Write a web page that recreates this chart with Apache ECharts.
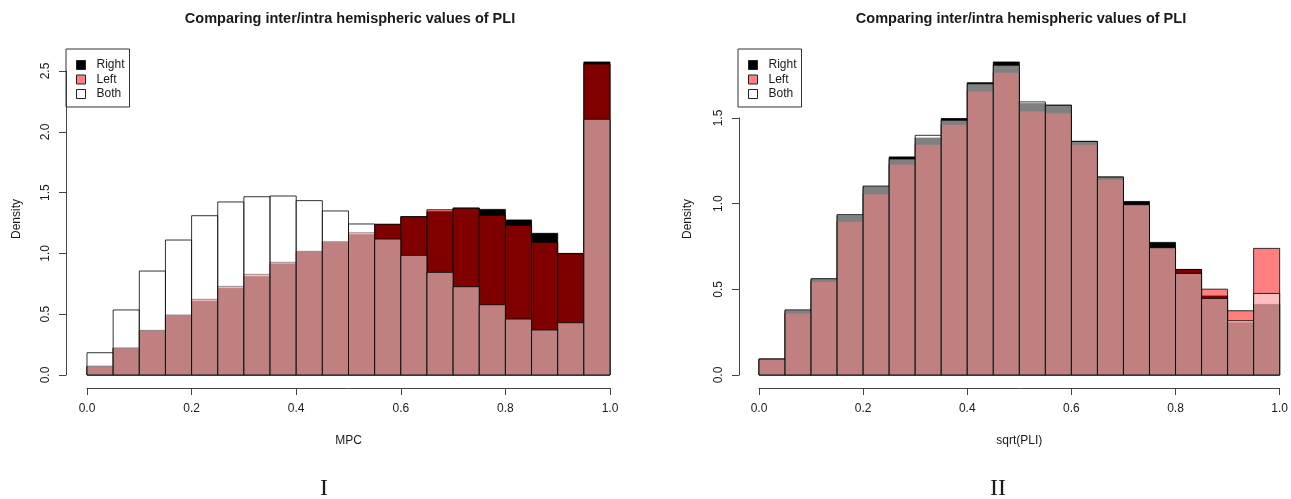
<!DOCTYPE html>
<html>
<head>
<meta charset="utf-8">
<script src="https://cdn.jsdelivr.net/npm/echarts@6/dist/echarts.min.js"></script>
<style>
html,body{margin:0;padding:0;background:#fff;}
#chart{width:1291px;height:499px;}
</style>
</head>
<body>
<div id="chart"></div>
<script>
// ---- data ----
const binEdges = [0,0.05,0.1,0.15,0.2,0.25,0.3,0.35,0.4,0.45,0.5,0.55,0.6,0.65,0.7,0.75,0.8,0.85,0.9,0.95,1.0];

// Panel I : MPC densities
const mpcRight = [0.071,0.220,0.364,0.490,0.606,0.713,0.809,0.913,1.012,1.090,1.154,1.239,1.302,1.343,1.373,1.362,1.275,1.165,1.000,2.574];
const mpcLeft  = [0.072,0.222,0.367,0.493,0.622,0.729,0.828,0.927,1.017,1.096,1.170,1.239,1.302,1.359,1.372,1.313,1.231,1.091,0.998,2.558];
const mpcBoth  = [0.183,0.535,0.855,1.110,1.310,1.423,1.466,1.472,1.434,1.349,1.242,1.118,0.984,0.844,0.726,0.578,0.460,0.370,0.430,2.103];

// Panel II : sqrt(PLI) densities
const pliRight = [0.093,0.377,0.560,0.932,1.100,1.273,1.383,1.497,1.706,1.827,1.584,1.575,1.364,1.156,1.013,0.774,0.616,0.461,0.305,0.412];
const pliLeft  = [0.092,0.361,0.546,0.896,1.057,1.230,1.346,1.462,1.657,1.765,1.541,1.529,1.345,1.141,0.994,0.743,0.616,0.501,0.375,0.739];
const pliBoth  = [0.093,0.380,0.562,0.936,1.103,1.261,1.399,1.487,1.700,1.808,1.594,1.574,1.363,1.155,0.994,0.743,0.593,0.447,0.317,0.476];

const xTicks1 = [0, 0.2, 0.4, 0.6, 0.8, 1.0];
const yTicks1 = [0, 0.5, 1.0, 1.5, 2.0, 2.5];
const yTicks2 = [0, 0.5, 1.0, 1.5];

const titleText = 'Comparing inter/intra hemispheric values of PLI';
const seriesNames = ['Right', 'Left', 'Both'];
const fills = ['#000000', 'rgba(255,0,0,0.5)', 'rgba(255,255,255,0.5)'];
const legendFills = ['#000000', '#ff8080', '#ffffff'];

// ---- build ----
function toBins(vals){
  return vals.map((v,i)=>[binEdges[i], binEdges[i+1], v]);
}
function histSeries(name, vals, fill, idx){
  return {
    type:'custom', name:name, xAxisIndex:idx, yAxisIndex:idx, clip:false,
    itemStyle:{color:fill},
    data: toBins(vals),
    renderItem: function(params, api){
      const p0 = api.coord([api.value(0), api.value(2)]);
      const p1 = api.coord([api.value(1), 0]);
      return {type:'rect',
        shape:{x:p0[0], y:p0[1], width:p1[0]-p0[0], height:p1[1]-p0[1]},
        style:{fill:fill, stroke:'rgba(0,0,0,0.8)', lineWidth:1}};
    }
  };
}
const FONT = 'Liberation Sans, Arial, Helvetica, sans-serif';
const TXT = '#1a1a1a';
const AX = '#444';

function xAxisCfg(idx, name){
  return {gridIndex:idx, type:'value', min:0, max:1, interval:0.2, position:'bottom', offset:13,
    axisLine:{show:true, onZero:false, lineStyle:{color:AX, width:1}},
    axisTick:{show:true, length:7, lineStyle:{color:AX, width:1}},
    axisLabel:{show:true, margin:15, fontSize:12, fontFamily:FONT, color:TXT, formatter:v=>v.toFixed(1)},
    splitLine:{show:false},
    name:name, nameLocation:'middle', nameGap:47, nameTextStyle:{fontSize:12, fontFamily:FONT, color:TXT}};
}
function yAxisCfg(idx, maxV, off){
  return {gridIndex:idx, type:'value', min:0, max:maxV, interval:0.5, position:'left', offset:off,
    axisLine:{show:true, onZero:false, lineStyle:{color:AX, width:1}},
    axisTick:{show:true, length:7, lineStyle:{color:AX, width:1}},
    axisLabel:{show:true, rotate:90, margin:14, fontSize:12, fontFamily:FONT, color:TXT, formatter:v=>v.toFixed(1)},
    splitLine:{show:false}};
}
function legendCfg(left){
  return {left:left, top:49, orient:'vertical', selectedMode:false,
    borderColor:'#333', borderWidth:1, borderRadius:0, padding:[10,5,7,10],
    itemWidth:9, itemHeight:9, itemGap:2.5,
    textStyle:{fontSize:12, fontFamily:FONT, color:TXT, padding:[0,0,0,6]},
    data: seriesNames.map((n,i)=>({name:n, icon:'rect',
      itemStyle:{color:legendFills[i], borderColor:'#222', borderWidth:1}}))};
}

const chart = echarts.init(document.getElementById('chart'), null, {renderer:'canvas'});
const series = [];
[mpcRight, mpcLeft, mpcBoth].forEach((v,i)=>series.push(histSeries(seriesNames[i], v, fills[i], 0)));
[pliRight, pliLeft, pliBoth].forEach((v,i)=>series.push(histSeries(seriesNames[i], v, fills[i], 1)));

function txt(x,y,text,font,rot){
  return {type:'text', x:x, y:y, rotation:rot||0,
    style:{text:text, font:font, fill:TXT, align:'center', verticalAlign:'middle', textAlign:'center', textVerticalAlign:'middle'}};
}

chart.setOption({
  animation:false,
  backgroundColor:'#ffffff',
  grid:[
    {left:87, top:71, width:523, height:304, containLabel:false},
    {left:759, top:118, width:523, height:257, containLabel:false}
  ],
  xAxis:[xAxisCfg(0,'MPC'), xAxisCfg(1,'sqrt(PLI)')],
  yAxis:[yAxisCfg(0,2.5,21), yAxisCfg(1,1.5,20)],
  legend:[legendCfg(66), legendCfg(738)],
  series:series,
  graphic:[
    txt(350, 19, titleText, 'bold 14.5px ' + FONT),
    txt(1021, 19, titleText, 'bold 14.5px ' + FONT),
    txt(17, 219, 'Density', '12px ' + FONT, Math.PI/2),
    txt(688, 219, 'Density', '12px ' + FONT, Math.PI/2),
    txt(324, 489, 'I', '24px Liberation Serif, Times New Roman, serif'),
    txt(998, 489, 'II', '24px Liberation Serif, Times New Roman, serif')
  ]
});
</script>
</body>
</html>
